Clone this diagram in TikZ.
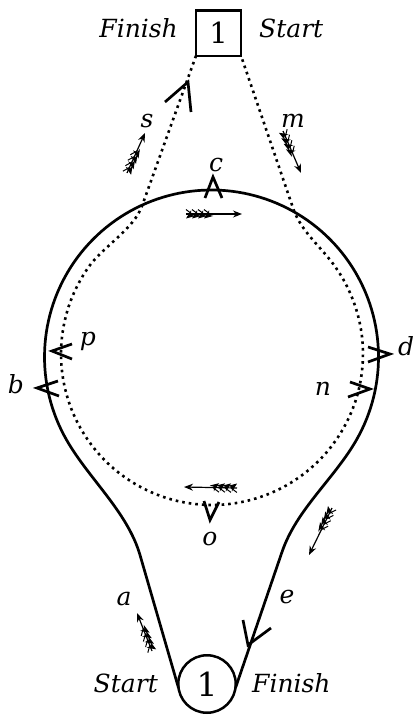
\documentclass[tikz,border=0pt]{standalone}
\usepackage{fontspec}
\setmainfont{DejaVu Serif}
\usetikzlibrary{arrows.meta,decorations.markings}
\newcommand\myfletch{\draw[line width=1pt] (-6pt,4.5pt) -- (0pt,0pt) -- (-6pt,-4.5pt);}
\begin{document}
\begin{tikzpicture}[x=1pt,y=-1pt,
  solidpath/.style={line width=2.7pt},
  dotpath/.style={line width=2.6pt, dash pattern=on 2.6pt off 4pt},
  chev/.style={line width=2.7pt, line join=miter, miter limit=20},
  lab/.style={font=\fontsize{25}{30}\selectfont\itshape, inner sep=0pt, anchor=base},
  feathered/.style={line width=1.2pt, -{Stealth[length=9pt,width=7pt]},
    postaction={decorate},
    decoration={markings,
      mark=at position 6pt with {\myfletch},
      mark=at position 12pt with {\myfletch},
      mark=at position 18pt with {\myfletch},
      mark=at position 24pt with {\myfletch}}}
]
\useasboundingbox (0,0) rectangle (416,715);

% start / finish markers
\node[draw, line width=2.5pt, minimum width=45pt, minimum height=45.5pt, inner sep=0pt, outer sep=0pt,
      font=\fontsize{29}{30}\selectfont] (sq) at (218.5,33) {1};
\node[draw, circle, line width=2.5pt, minimum size=57.5pt, inner sep=0pt, outer sep=0pt,
      font=\fontsize{33}{34}\selectfont] (bc) at (207,684) {1};

% dotted course
\draw[dotpath] (sq.south west) -- (142,206)
  .. controls (133.5,229.5) and (102.6,246.9) .. (88.3,267.4)
  -- plot[domain=215:-35, samples=90] ({212+151*cos(\x)},{354+151*sin(\x)})
  .. controls (321.4,246.9) and (301,231.8) .. (293,208)
  -- (sq.south east);

% solid course
\draw[solidpath] (bc.188) -- (140,555)
  .. controls (127.4,511.8) and (89,479) .. (66.6,440)
  -- plot[domain=150.2:389.8, samples=120] ({211.5+167*cos(\x)},{357+167*sin(\x)})
  .. controls (334,479) and (296.5,509.4) .. (282,552)
  -- (bc.352);

% chevrons
\draw[chev] (165,102) -- (188,82) -- (191,112);
\draw[chev] (205,198) -- (213,177) -- (222,198);
\draw[chev] (72,344) -- (52,351) -- (72,359);
\draw[chev] (58,381) -- (37,388) -- (59,396);
\draw[chev] (368,347) -- (390,354) -- (368,362);
\draw[chev] (350,382) -- (370,389) -- (348,397);
\draw[chev] (204,501) -- (210,520) -- (219,502);
\draw[chev] (243,620) -- (248,645) -- (271,628);

% feathered arrows
\draw[feathered] (127,173) -- (145,133);
\draw[feathered] (283,131) -- (301,173);
\draw[feathered] (186,214) -- (242,214);
\draw[feathered] (237,488) -- (184,487);
\draw[feathered] (332,508) -- (309,555);
\draw[feathered] (152,651) -- (137,613);

% labels
\node[lab, anchor=base east] (finT) at (178,37) {Finish};
\node[lab, anchor=base west] (staT) at (259,37) {Start};
\node[lab, anchor=base east] (staB) at (158,692) {Start};
\node[lab, anchor=base west] (finB) at (252,692) {Finish};
\node[lab] (ls) at (147,127) {s};
\node[lab] (lm) at (293,127) {m};
\node[lab] (lc) at (216,171) {c};
\node[lab] (lp) at (88,345) {p};
\node[lab] (lb) at (16,393) {b};
\node[lab] (ld) at (406,355) {d};
\node[lab] (ln) at (323,395) {n};
\node[lab] (lo) at (210,545) {o};
\node[lab] (la) at (124,605) {a};
\node[lab] (le) at (287,603) {e};
\end{tikzpicture}
\end{document}
